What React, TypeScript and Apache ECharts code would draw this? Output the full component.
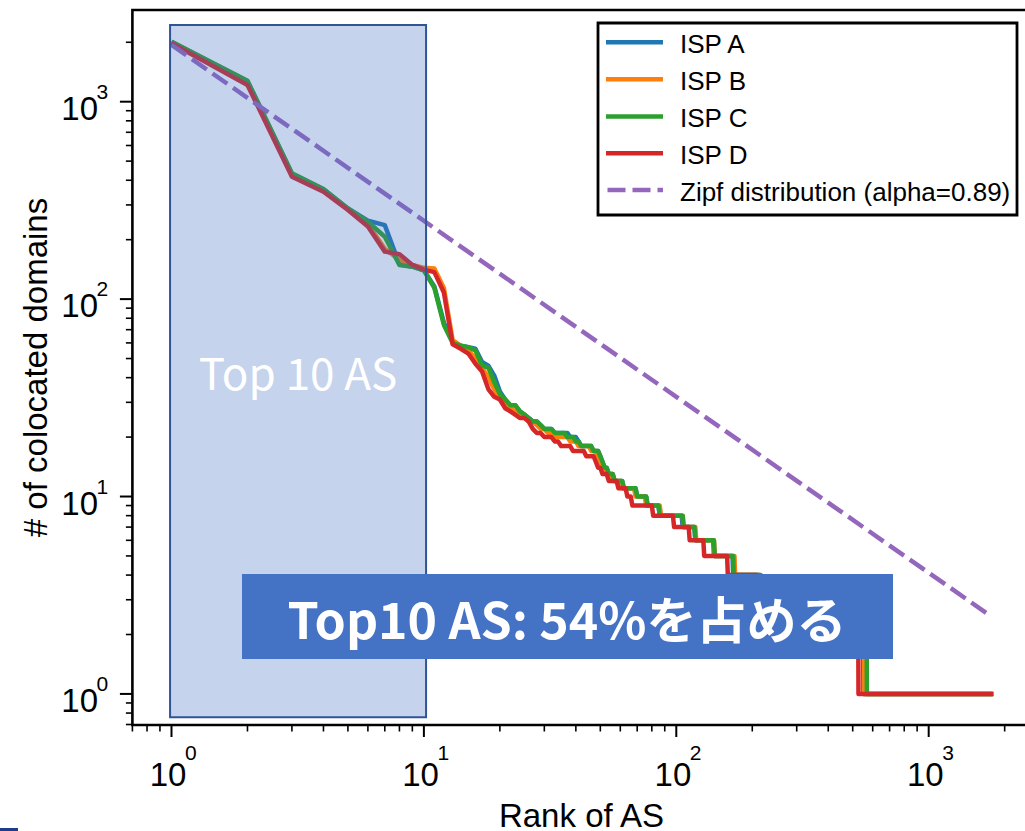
import React, { useEffect, useRef } from "react";
import * as echarts from "echarts";

// ---------- data ----------
const X_MIN = 0.7;
const X_MAX = 2640;
const Y_MIN = 0.696;
const Y_MAX = 2914;

const seriesNames = ["ISP A", "ISP B", "ISP C", "ISP D", "Zipf distribution (alpha=0.89)"];
const seriesColors = ["#1f77b4", "#ff7f0e", "#2ca02c", "#d62728", "#9467bd"];

// [rank, # of colocated domains] — plateaus are given by their first and last rank
const ispA = [
  [1, 2010], [2, 1270], [3, 432], [4, 360], [5, 288], [6, 250], [7, 237], [8, 150], [9, 146], [10, 140],
  [11, 116], [12, 76], [13, 61], [14, 58], [15, 57], [16, 56], [17, 48], [18, 46], [19, 41], [20, 34],
  [21, 31], [22, 29], [23, 29], [24, 27], [25, 26], [26, 25], [27, 24], [28, 24], [29, 23], [30, 22],
  [32, 22], [33, 21], [37, 21], [38, 20], [40, 20], [41, 19], [42, 18], [46, 18], [47, 17], [49, 17],
  [50, 16], [51, 15], [52, 14], [53, 14], [54, 13], [56, 13], [57, 12], [61, 12], [62, 11], [69, 11],
  [70, 10], [76, 10], [77, 9], [85, 9], [86, 8], [105, 8], [106, 7], [118, 7], [119, 6], [140, 6],
  [141, 5], [167, 5], [168, 4], [214, 4], [215, 3], [320, 3], [321, 2], [550, 2], [551, 1], [1790, 1],
];
const ispB = [
  [1, 1990], [2, 1240], [3, 425], [4, 355], [5, 285], [6, 240], [7, 180], [8, 158], [9, 149], [10, 144],
  [11, 143], [12, 114], [13, 62], [14, 58], [15, 55], [16, 50], [17, 45], [18, 40], [19, 35], [20, 31],
  [21, 30], [22, 28], [23, 27], [24, 26], [25, 26], [26, 24], [27, 24], [28, 23], [29, 22], [30, 22],
  [31, 21], [32, 21], [33, 20], [37, 20], [38, 19], [40, 19], [41, 18], [45, 18], [46, 17], [48, 17],
  [49, 16], [50, 15], [51, 14], [52, 14], [53, 13], [55, 13], [56, 12], [60, 12], [61, 11], [68, 11],
  [69, 10], [75, 10], [76, 9], [86, 9], [87, 8], [106, 8], [107, 7], [119, 7], [120, 6], [141, 6],
  [142, 5], [170, 5], [171, 4], [212, 4], [213, 3], [315, 3], [316, 2], [555, 2], [556, 1], [1795, 1],
];
const ispC = [
  [1, 2014], [2, 1277], [3, 434], [4, 361], [5, 288], [6, 247], [7, 207], [8, 149], [9, 146], [10, 140],
  [11, 114], [12, 74], [13, 60], [14, 58], [15, 57], [16, 55], [17, 46], [18, 45], [19, 38], [20, 33],
  [21, 31], [22, 29], [23, 29], [24, 27], [25, 26], [26, 25], [27, 24], [28, 24], [29, 23], [30, 22],
  [32, 22], [33, 21], [36, 21], [37, 20], [39, 20], [40, 19], [41, 19], [42, 18], [46, 18], [47, 17],
  [49, 17], [50, 16], [51, 15], [52, 14], [53, 14], [54, 13], [56, 13], [57, 12], [61, 12], [62, 11],
  [69, 11], [70, 10], [76, 10], [77, 9], [85, 9], [86, 8], [106, 8], [107, 7], [118, 7], [119, 6],
  [141, 6], [142, 5], [168, 5], [169, 4], [216, 4], [217, 3], [330, 3], [331, 2], [568, 2], [569, 1],
  [1810, 1],
];
const ispD = [
  [1, 1977], [2, 1215], [3, 417], [4, 350], [5, 283], [6, 233], [7, 174], [8, 169], [9, 149], [10, 141],
  [11, 137], [12, 108], [13, 59], [14, 56], [15, 53], [16, 47], [17, 43], [18, 35], [19, 32], [20, 31],
  [21, 28], [22, 27], [23, 26], [24, 25], [25, 25], [26, 24], [27, 22], [28, 21], [29, 21], [30, 20],
  [32, 20], [33, 19], [34, 19], [35, 18], [38, 18], [39, 17], [43, 17], [44, 16], [47, 16], [48, 15],
  [49, 14], [50, 14], [51, 13], [53, 13], [54, 12], [58, 12], [59, 11], [63, 11], [64, 10], [66, 10],
  [67, 9], [80, 9], [81, 8], [97, 8], [98, 7], [112, 7], [113, 6], [128, 6], [129, 5], [159, 5],
  [160, 4], [208, 4], [209, 3], [300, 3], [301, 2], [526, 2], [527, 1], [1800, 1],
];
const zipf = [[1, 1940], [1700, 2.56]];

const xMajorTicks = [1, 10, 100, 1000];
const xMinorTicks = [0.7, 0.8, 0.9, 2, 3, 4, 5, 6, 7, 8, 9, 20, 30, 40, 50, 60, 70, 80, 90,
  200, 300, 400, 500, 600, 700, 800, 900, 2000];
const yMajorTicks = [1, 10, 100, 1000];
const yMinorTicks = [0.7, 0.8, 0.9, 2, 3, 4, 5, 6, 7, 8, 9, 20, 30, 40, 50, 60, 70, 80, 90,
  200, 300, 400, 500, 600, 700, 800, 900, 2000];

// highlighted region: [rank from, count top, rank to, count bottom]
const top10Region = [[0.987, 2447, 10.2, 0.761]];
const regionLabel = "Top 10 AS";
const bannerText = "Top10 AS: 54%を占める";
const xAxisTitle = "Rank of AS";
const yAxisTitle = "# of colocated domains";

// ---------- chart ----------
const FONT = '"Liberation Sans", Arial, Helvetica, sans-serif';
const JP = '"Noto Sans CJK JP", "Noto Sans", sans-serif';

function tstyle(o: any) {
  return { ...o, textAlign: o.align, textVerticalAlign: o.verticalAlign };
}

export default function App() {
  const ref = useRef<HTMLDivElement>(null);

  useEffect(() => {
    const chart = echarts.init(ref.current!, null, { renderer: "svg" });

    const lineSeries = [ispA, ispB, ispC, ispD].map((d, i) => ({
      name: seriesNames[i],
      type: "line",
      data: d,
      showSymbol: false,
      symbol: "none",
      silent: true,
      z: 2,
      lineStyle: { color: seriesColors[i], width: 4.5, join: "round", cap: "butt" },
    }));

    const zipfSeries = {
      name: seriesNames[4],
      type: "line",
      data: zipf,
      showSymbol: false,
      symbol: "none",
      silent: true,
      z: 2,
      lineStyle: { color: seriesColors[4], width: 4.5, type: [18, 7], cap: "butt" },
    };

    const xTicks = (ticks: number[], major: boolean) => ({
      type: "custom",
      silent: true,
      clip: false,
      z: 5,
      data: ticks.map((v) => [v, 1]),
      encode: { x: 0, y: 1 },
      renderItem: (params: any, api: any) => {
        const v = api.value(0);
        const x = api.coord([v, 1])[0];
        const cs = params.coordSys;
        const y0 = cs.y + cs.height;
        const children: any[] = [
          {
            type: "line",
            shape: { x1: x, y1: y0, x2: x, y2: y0 + (major ? 12 : 6.5) },
            style: { stroke: "#000", lineWidth: major ? 2 : 1.6 },
          },
        ];
        if (major) {
          const exp = String(Math.round(Math.log10(v)));
          children.push({
            type: "text",
            style: tstyle({
              text: "10", x: x + 15, y: y0 + 49.5, align: "right", verticalAlign: "middle",
              fontSize: 33, fontFamily: FONT, fill: "#000",
            }),
          });
          children.push({
            type: "text",
            style: tstyle({
              text: exp, x: x + 13.5, y: y0 + 27.5, align: "left", verticalAlign: "middle",
              fontSize: 21, fontFamily: FONT, fill: "#000",
            }),
          });
        }
        return { type: "group", children };
      },
    });

    const yTicks = (ticks: number[], major: boolean) => ({
      type: "custom",
      silent: true,
      clip: false,
      z: 5,
      data: ticks.map((v) => [1, v]),
      encode: { x: 0, y: 1 },
      renderItem: (params: any, api: any) => {
        const v = api.value(1);
        const y = api.coord([1, v])[1];
        const cs = params.coordSys;
        const x0 = cs.x;
        const children: any[] = [
          {
            type: "line",
            shape: { x1: x0, y1: y, x2: x0 - (major ? 12.5 : 6.5), y2: y },
            style: { stroke: "#000", lineWidth: major ? 2 : 1.6 },
          },
        ];
        if (major) {
          const exp = String(Math.round(Math.log10(v)));
          children.push({
            type: "text",
            style: tstyle({
              text: "10", x: x0 - 34.4, y: y + 6.8, align: "right", verticalAlign: "middle",
              fontSize: 33, fontFamily: FONT, fill: "#000",
            }),
          });
          children.push({
            type: "text",
            style: tstyle({
              text: exp, x: x0 - 36, y: y - 10.5, align: "left", verticalAlign: "middle",
              fontSize: 21, fontFamily: FONT, fill: "#000",
            }),
          });
        }
        return { type: "group", children };
      },
    });

    const regionSeries = {
      type: "custom",
      silent: true,
      clip: false,
      z: 3,
      data: top10Region,
      encode: { x: [0, 2], y: [1, 3] },
      renderItem: (params: any, api: any) => {
        const p1 = api.coord([api.value(0), api.value(1)]);
        const p2 = api.coord([api.value(2), api.value(3)]);
        return {
          type: "group",
          children: [
            {
              type: "rect",
              shape: { x: p1[0], y: p1[1], width: p2[0] - p1[0], height: p2[1] - p1[1] },
              style: { fill: "rgba(68,114,196,0.31)", stroke: "#2F5597", lineWidth: 2 },
            },
            {
              type: "text",
              style: tstyle({
                text: regionLabel, x: (p1[0] + p2[0]) / 2, y: (p1[1] + p2[1]) / 2 - 0.5,
                align: "center", verticalAlign: "middle",
                fontSize: 44, fontFamily: JP, fill: "#ffffff",
              }),
            },
          ],
        };
      },
    };

    // legend (drawn as graphic)
    const legendX = 598, legendY = 23, legendW = 419, legendH = 192;
    const rowY = [42.3, 79.3, 116.5, 153.2, 190];
    const legendChildren: any[] = [
      {
        type: "rect",
        shape: { x: legendX, y: legendY, width: legendW, height: legendH },
        style: { fill: "#fff", stroke: "#000", lineWidth: 2.8 },
      },
    ];
    seriesNames.forEach((n, i) => {
      legendChildren.push({
        type: "line",
        shape: { x1: i === 4 ? 607.5 : 606, y1: rowY[i], x2: 663, y2: rowY[i] },
        style: {
          stroke: seriesColors[i], lineWidth: 4.5,
          lineDash: i === 4 ? [18, 7] : null, lineCap: "butt",
        },
      });
      legendChildren.push({
        type: "text",
        style: tstyle({
          text: n, x: 680, y: rowY[i] + 1.5, align: "left", verticalAlign: "middle",
          fontSize: 26, fontFamily: FONT, fill: "#000",
        }),
      });
    });

    chart.setOption({
      animation: false,
      backgroundColor: "#fff",
      grid: {
        left: 132.4, top: 10, width: 902.7, height: 715,
        show: true, borderColor: "#000", borderWidth: 2.6, backgroundColor: "transparent",
      },
      xAxis: {
        type: "log", logBase: 10, min: X_MIN, max: X_MAX,
        axisLine: { show: false }, axisTick: { show: false }, axisLabel: { show: false },
        splitLine: { show: false }, minorTick: { show: false },
      },
      yAxis: {
        type: "log", logBase: 10, min: Y_MIN, max: Y_MAX,
        axisLine: { show: false }, axisTick: { show: false }, axisLabel: { show: false },
        splitLine: { show: false }, minorTick: { show: false },
      },
      series: [
        ...lineSeries,
        zipfSeries,
        regionSeries,
        xTicks(xMinorTicks, false),
        xTicks(xMajorTicks, true),
        yTicks(yMinorTicks, false),
        yTicks(yMajorTicks, true),
      ],
      graphic: [
        { type: "group", z: 50, children: legendChildren },
        {
          type: "rect", z: 60,
          shape: { x: 242, y: 574, width: 651, height: 85 },
          style: { fill: "#4472C4" },
        },
        {
          type: "text", z: 61,
          style: tstyle({
            text: bannerText, x: 567, y: 616.5, align: "center", verticalAlign: "middle",
            fontSize: 50, fontWeight: "bold", fontFamily: JP, fill: "#ffffff",
          }),
        },
        {
          type: "text", z: 40,
          style: tstyle({
            text: xAxisTitle, x: 581.5, y: 815.5, align: "center", verticalAlign: "middle",
            fontSize: 33, fontFamily: FONT, fill: "#000",
          }),
        },
        {
          type: "text", z: 40, x: 35, y: 367.5, rotation: Math.PI / 2,
          style: tstyle({
            text: yAxisTitle, x: 0, y: 0, align: "center", verticalAlign: "middle",
            fontSize: 33, fontFamily: FONT, fill: "#000",
          }),
        },
        {
          type: "rect", z: 40,
          shape: { x: 0, y: 828, width: 18, height: 3 },
          style: { fill: "#1f3c8c" },
        },
      ],
    });

    return () => chart.dispose();
  }, []);

  return (
    <div
      style={{ position: "absolute", left: 0, top: 0, width: 1025, height: 831, overflow: "hidden" }}
    >
      <div ref={ref} style={{ width: 1045, height: 831 }} />
    </div>
  );
}
